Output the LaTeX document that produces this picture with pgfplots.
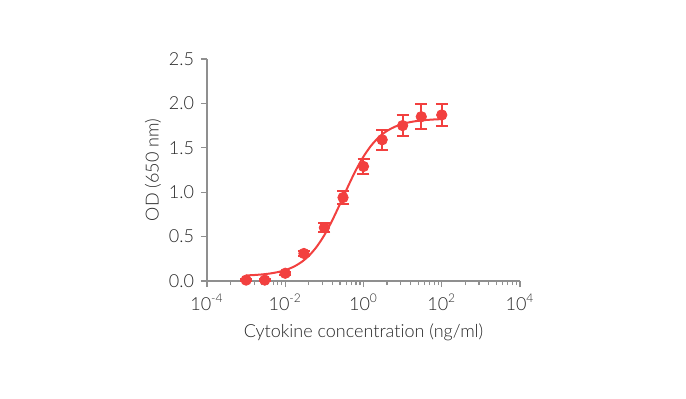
\documentclass[border=0pt]{standalone}
\usepackage{pgfplots}
\pgfplotsset{compat=1.18}
\usepackage{fontspec}
\setmainfont{Lato Light}[Ligatures=NoCommon]
\definecolor{dred}{HTML}{F2403F}
\definecolor{axgray}{HTML}{8F8F8F}
\begin{document}
\begin{tikzpicture}[x=1pt,y=1pt]
\path[use as bounding box] (0,0) rectangle (343,199);
\begin{axis}[
  at={(103.5pt,58.5pt)}, anchor=south west,
  scale only axis, width=156.5pt, height=111pt,
  xmode=log, xmin=1e-4, xmax=1e4, ymin=0, ymax=2.5,
  axis x line*=bottom, axis y line*=left,
  axis line style={axgray, line width=0.6pt},
  xtick={1e-4,1e-2,1,1e2,1e4},
  xticklabels={10\textsuperscript{-4},10\textsuperscript{-2},10\textsuperscript{0},10\textsuperscript{2},10\textsuperscript{4}},
  minor xtick={4e-4,9e-4,1.6e-3,2.5e-3,3.6e-3,4.9e-3,6.4e-3,8.1e-3,4e-2,9e-2,0.16,0.25,0.36,0.49,0.64,0.81,4,9,16,25,36,49,64,81,400,900,1600,2500,3600,4900,6400,8100},
  ytick={0,0.5,1,1.5,2,2.5},
  yticklabel style={/pgf/number format/.cd, fixed, fixed zerofill, precision=1, assume math mode=true},
  tick style={axgray, line width=0.6pt},
  major tick length=3pt, minor tick length=2pt,
  tick align=outside,
  xlabel={Cytokine concentration (ng/ml)},
  ylabel={OD (650 nm)},
  ylabel shift=-3pt,
  label style={font=\fontsize{9}{10}\selectfont, color=black!85},
  tick label style={font=\fontsize{9}{10}\selectfont, color=black!85},
  clip=false,
]
\addplot[dred, line width=1pt, smooth] coordinates {
(0.001,0.0628) (0.001585,0.0671) (0.002512,0.0737) (0.003981,0.0838)
(0.00631,0.0992) (0.01,0.1225) (0.01585,0.157) (0.02512,0.209)
(0.03981,0.282) (0.0631,0.384) (0.1,0.517) (0.1585,0.682)
(0.2512,0.868) (0.3981,1.061) (0.631,1.244) (1,1.401)
(1.585,1.527) (2.512,1.622) (3.981,1.690) (6.31,1.737)
(10,1.769) (15.85,1.790) (25.12,1.804) (39.81,1.813)
(63.1,1.819) (100,1.823)
};
\addplot[dred, only marks, mark=*, mark size=2.6pt,
  error bars/.cd, y dir=both, y explicit,
  error bar style={line width=1pt, dred},
  error mark options={rotate=90, mark size=3pt, line width=1pt, dred}]
  table[x=x, y=y, y error=e] {
x y e
0.001 0.01 0.01
0.003 0.01 0.01
0.01 0.087 0.02
0.03 0.31 0.03
0.1 0.60 0.05
0.3 0.94 0.07
1 1.29 0.08
3 1.59 0.11
10 1.75 0.12
30 1.85 0.14
100 1.87 0.12
};
\end{axis}
\end{tikzpicture}
\end{document}
